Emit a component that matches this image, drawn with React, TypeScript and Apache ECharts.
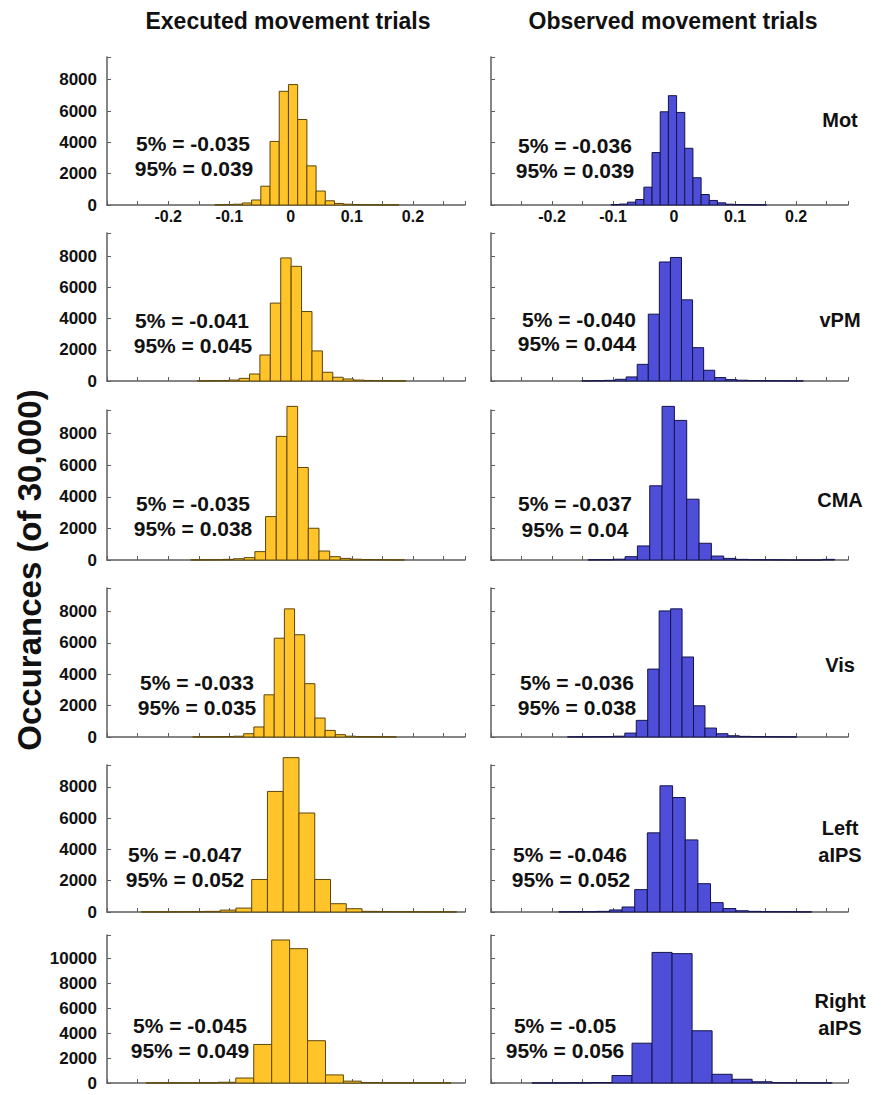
import React, { useEffect, useRef } from "react";
import * as echarts from "echarts";

// ---------------- DATA ----------------
const columnTitles = ["Executed movement trials", "Observed movement trials"];
const regionLabels = ["Mot", "vPM", "CMA", "Vis", "Left\naIPS", "Right\naIPS"];
const yAxisTitle = "Occurances (of 30,000)";
const xTickLabels = ["-0.2", "-0.1", "0", "0.1", "0.2"];

const execP5 = ["-0.035", "-0.041", "-0.035", "-0.033", "-0.047", "-0.045"];
const execP95 = ["0.039", "0.045", "0.038", "0.035", "0.052", "0.049"];
const obsP5 = ["-0.036", "-0.040", "-0.037", "-0.036", "-0.046", "-0.05"];
const obsP95 = ["0.039", "0.044", "0.04", "0.038", "0.052", "0.056"];

// histogram bins: first bin edge, bin width, counts
const motExecStart = -0.1239;
const motExecWidth = 0.01505;
const motExecCounts = [15, 25, 50, 130, 320, 1200, 4060, 7260, 7690, 5460, 2500, 890, 270, 100, 50, 30, 20, 15, 10, 10];

const motObsStart = -0.1031;
const motObsWidth = 0.0134;
const motObsCounts = [30, 60, 180, 350, 1140, 3350, 5950, 6980, 5910, 3620, 1740, 670, 290, 140, 50, 30, 20, 15, 10];

const vpmExecStart = -0.1523;
const vpmExecWidth = 0.01702;
const vpmExecCounts = [10, 15, 25, 60, 170, 450, 1670, 5000, 7900, 7360, 4460, 1930, 560, 240, 130, 60, 35, 20, 15, 10];

const vpmObsStart = -0.1511;
const vpmObsWidth = 0.01814;
const vpmObsCounts = [10, 20, 40, 110, 260, 1070, 4290, 7640, 7930, 5210, 2140, 690, 220, 90, 50, 30, 20, 15, 10, 10];

const cmaExecStart = -0.1631;
const cmaExecWidth = 0.01746;
const cmaExecCounts = [10, 15, 20, 40, 80, 150, 530, 2750, 7830, 9730, 5860, 2010, 570, 210, 100, 50, 30, 20, 15, 10];

const cmaObsStart = -0.1409;
const cmaObsWidth = 0.0202;
const cmaObsCounts = [15, 20, 50, 210, 890, 4700, 9730, 8840, 3850, 1060, 250, 100, 40, 20, 15, 10, 0, 0, 0, 40];

const visExecStart = -0.1598;
const visExecWidth = 0.01663;
const visExecCounts = [10, 15, 20, 30, 50, 210, 640, 2690, 6300, 8170, 6520, 3400, 1210, 420, 150, 50, 30, 20, 15, 10];

const visObsStart = -0.1746;
const visObsWidth = 0.01877;
const visObsCounts = [10, 15, 20, 30, 50, 250, 1060, 4330, 8040, 8170, 5100, 1990, 570, 210, 80, 40, 25, 20, 15, 10];

const leftExecStart = -0.2439;
const leftExecWidth = 0.02576;
const leftExecCounts = [10, 10, 15, 20, 40, 120, 250, 2080, 7710, 9870, 6330, 2080, 530, 210, 40, 25, 20, 15, 10, 10];

const leftObsStart = -0.1888;
const leftObsWidth = 0.02071;
const leftObsCounts = [10, 15, 20, 40, 130, 320, 1430, 5060, 8070, 7320, 4610, 1810, 600, 220, 80, 40, 25, 20, 15, 10];

const rightExecStart = -0.236;
const rightExecWidth = 0.0293;
const rightExecCounts = [10, 10, 15, 20, 60, 400, 3100, 11500, 10800, 3400, 650, 150, 40, 20, 15, 10, 10];

const rightObsStart = -0.2329;
const rightObsWidth = 0.0328;
const rightObsCounts = [10, 10, 20, 40, 600, 3200, 10500, 10400, 4200, 700, 300, 100, 30, 15, 10];

const execHists = [
  [motExecStart, motExecWidth, motExecCounts],
  [vpmExecStart, vpmExecWidth, vpmExecCounts],
  [cmaExecStart, cmaExecWidth, cmaExecCounts],
  [visExecStart, visExecWidth, visExecCounts],
  [leftExecStart, leftExecWidth, leftExecCounts],
  [rightExecStart, rightExecWidth, rightExecCounts],
] as [number, number, number[]][];
const obsHists = [
  [motObsStart, motObsWidth, motObsCounts],
  [vpmObsStart, vpmObsWidth, vpmObsCounts],
  [cmaObsStart, cmaObsWidth, cmaObsCounts],
  [visObsStart, visObsWidth, visObsCounts],
  [leftObsStart, leftObsWidth, leftObsCounts],
  [rightObsStart, rightObsWidth, rightObsCounts],
] as [number, number, number[]][];

const xMin = -0.3;
const xMax = 0.285;
const yMaxByRow = [9450, 9500, 9500, 9500, 9400, 11900];

// ---------------- LAYOUT / STYLE ----------------
const W = 881;
const H = 1095;
const FONT = "'Liberation Sans', Arial, Helvetica, sans-serif";
const colLeft = [107, 491];
const colWidth = [358, 357];
const rowTop = [57, 233, 410, 588, 765, 935];
const rowHeight = [148, 148, 150, 149, 147, 148];
const execFill = "#FFC42A";
const execStroke = "#5c4608";
const obsFill = "#4E4ED8";
const obsStroke = "#14144a";
const axisColor = "#5e5e5e";
const pctFontSize = 21;
const labelFontSize = 20;

const pctPos = [
  [[193, 143], [194, 168], [575, 145], [575, 170]],
  [[192, 320], [193, 345], [579, 319], [577, 343]],
  [[193, 503], [193, 528], [575, 503], [575, 529]],
  [[197, 682], [197, 707], [577, 682], [577, 707]],
  [[185, 854], [185, 879], [570, 854], [571, 879]],
  [[190, 1025], [190, 1050], [565, 1025], [565, 1050]],
];
const regionPos = [[840, 120], [840, 320], [840, 500], [840, 665], [840, 841], [840, 1014]];

function binData(h: [number, number, number[]]) {
  const [start, w, counts] = h;
  return counts.map((c, i) => [start + i * w, start + (i + 1) * w, c]);
}

export default function App() {
  const ref = useRef<HTMLDivElement>(null);
  useEffect(() => {
    document.body.style.margin = "0";
    if (!ref.current) return;
    const chart = echarts.init(ref.current, undefined, { renderer: "svg" });
    const grids: any[] = [];
    const xAxes: any[] = [];
    const yAxes: any[] = [];
    const series: any[] = [];
    const graphics: any[] = [];
    const txt = (text: string, x: number, y: number, size: number, extra: any = {}) => ({
      type: "text",
      x,
      y,
      ...extra,
      style: {
        text,
        fontSize: size,
        fontWeight: "bold",
        fontFamily: FONT,
        fill: "#111",
        align: "center",
        verticalAlign: "middle",
        lineHeight: Math.round(size * 1.35),
      },
    });
    for (let r = 0; r < 6; r++) {
      for (let c = 0; c < 2; c++) {
        const idx = grids.length;
        grids.push({
          left: colLeft[c],
          top: rowTop[r],
          width: colWidth[c],
          height: rowHeight[r],
          outerBoundsMode: "none",
          containLabel: false,
        });
        xAxes.push({
          type: "value",
          gridIndex: idx,
          min: xMin,
          max: xMax,
          interval: 0.05,
          axisLine: { show: true, onZero: false, lineStyle: { color: axisColor, width: 1.5 } },
          axisTick: { show: true, inside: true, length: 4, lineStyle: { color: axisColor, width: 1 } },
          splitLine: { show: false },
          axisLabel: {
            show: r === 0,
            margin: 3,
            color: "#111",
            fontWeight: "bold",
            fontSize: 16,
            fontFamily: FONT,
            formatter: (v: number) => {
              const t = Math.round(v * 10);
              if (Math.abs(v * 10 - t) > 1e-6) return "";
              const s = String(t === 0 ? 0 : t / 10);
              return xTickLabels.includes(s) ? s : "";
            },
          },
        });
        yAxes.push({
          type: "value",
          gridIndex: idx,
          min: 0,
          max: yMaxByRow[r],
          interval: 2000,
          axisLine: { show: true, onZero: false, lineStyle: { color: axisColor, width: 1.5 } },
          axisTick: { show: true, inside: true, length: 4, lineStyle: { color: axisColor, width: 1 } },
          splitLine: { show: false },
          axisLabel: {
            show: c === 0,
            margin: 10,
            color: "#111",
            fontWeight: "bold",
            fontSize: 17,
            fontFamily: FONT,
            formatter: (v: number) => (Math.abs(v % 2000) < 1e-6 ? String(Math.round(v)) : ""),
          },
        });
        const h = c === 0 ? execHists[r] : obsHists[r];
        const fill = c === 0 ? execFill : obsFill;
        const stroke = c === 0 ? execStroke : obsStroke;
        series.push({
          type: "custom",
          xAxisIndex: idx,
          yAxisIndex: idx,
          clip: false,
          encode: { x: [0, 1], y: 2 },
          data: binData(h),
          renderItem: (params: any, api: any) => {
            const p0 = api.coord([api.value(0), 0]);
            const p1 = api.coord([api.value(1), api.value(2)]);
            return {
              type: "rect",
              shape: { x: p0[0], y: p1[1], width: p1[0] - p0[0], height: p0[1] - p1[1] },
              style: { fill, stroke, lineWidth: 1 },
            };
          },
        });
        const pp = pctPos[r];
        const p5 = c === 0 ? execP5[r] : obsP5[r];
        const p95 = c === 0 ? execP95[r] : obsP95[r];
        const pa = pp[c * 2];
        const pb = pp[c * 2 + 1];
        graphics.push(txt("5% = " + p5, pa[0], pa[1], pctFontSize));
        graphics.push(txt("95% = " + p95, pb[0], pb[1], pctFontSize));
      }
      graphics.push(txt(regionLabels[r], regionPos[r][0], regionPos[r][1], labelFontSize));
    }
    graphics.push(txt(columnTitles[0], 288, 21, 23));
    graphics.push(txt(columnTitles[1], 673, 21, 23));
    graphics.push(txt(yAxisTitle, 29, 570, 33, { rotation: Math.PI / 2 }));

    chart.setOption({
      animation: false,
      backgroundColor: "#ffffff",
      grid: grids,
      xAxis: xAxes,
      yAxis: yAxes,
      series,
      graphic: graphics,
    });
    return () => chart.dispose();
  }, []);
  return <div ref={ref} style={{ width: W, height: H }} />;
}
